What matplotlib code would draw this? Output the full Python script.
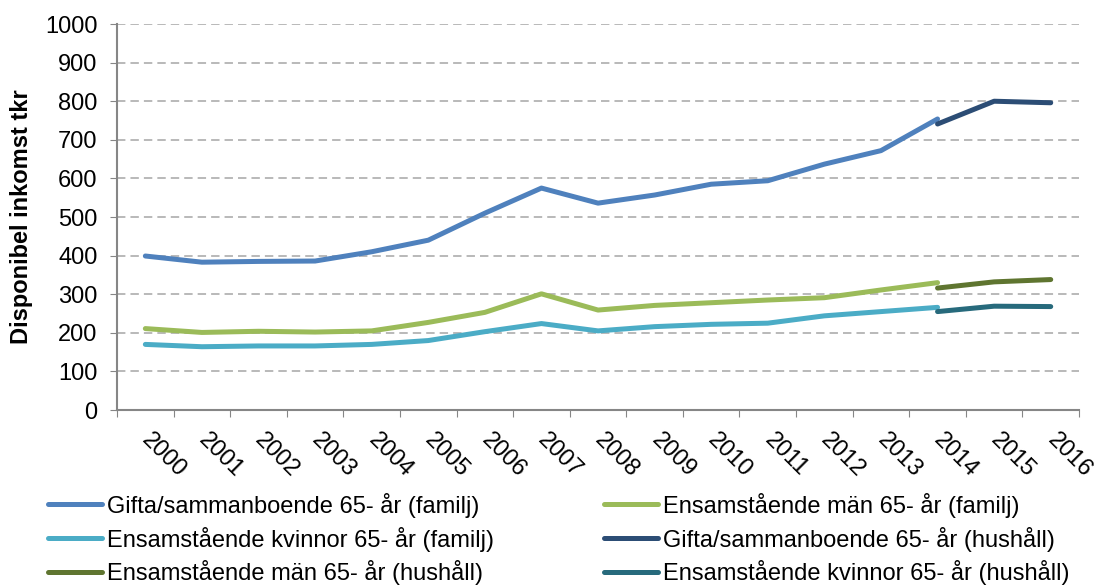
import numpy as np
from matplotlib import pyplot as plt

years = [str(y) for y in range(2000, 2017)]

# familj-based series, 2000-2014
gifta_familj = [399, 383, 385, 386, 410, 440, 510, 575, 536, 557, 585, 594, 637, 672, 754]
man_familj = [211, 201, 204, 202, 205, 227, 253, 301, 259, 271, 278, 285, 291, 311, 330]
kvinnor_familj = [170, 164, 166, 166, 170, 180, 203, 224, 205, 216, 222, 225, 244, 255, 266]

# hushåll-based series, 2014-2016
gifta_hushall = [741, 800, 796]
man_hushall = [316, 332, 338]
kvinnor_hushall = [255, 269, 268]

labels = [
    "Gifta/sammanboende 65- år (familj)",
    "Ensamstående män 65- år (familj)",
    "Ensamstående kvinnor 65- år (familj)",
    "Gifta/sammanboende 65- år (hushåll)",
    "Ensamstående män 65- år (hushåll)",
    "Ensamstående kvinnor 65- år (hushåll)",
]
colors = ["#4F81BD", "#9BBB59", "#4BACC6", "#2C4D75", "#5F7530", "#276A7C"]

plt.rcParams['font.family'] = ['Liberation Sans', 'DejaVu Sans']
FS = 17

fig = plt.figure(figsize=(10.96, 5.86), dpi=100)
ax = fig.add_axes([0.1068, 0.3003, 0.8777, 0.6587])

x_fam = np.arange(15)
x_hus = np.arange(14, 17)
series = [
    (x_fam, gifta_familj), (x_fam, man_familj), (x_fam, kvinnor_familj),
    (x_hus, gifta_hushall), (x_hus, man_hushall), (x_hus, kvinnor_hushall),
]
handles = []
for (xs, ys), c, lab in zip(series, colors, labels):
    h, = ax.plot(xs, ys, color=c, lw=3.6, solid_capstyle='round', label=lab, zorder=3)
    handles.append(h)

ax.set_xlim(-0.5, 16.5)
ax.set_ylim(0, 1000)
ax.set_yticks(np.arange(0, 1001, 100))
ax.set_xticks(np.arange(-0.5, 16.6, 1))
ax.set_xticklabels([])
ax.set_xticks(np.arange(17), minor=True)
ax.set_xticklabels(years, minor=True, rotation=-45, ha='left', va='center',
                   rotation_mode='anchor', fontsize=FS)
ax.tick_params(axis='x', which='minor', length=0, pad=19)
ax.tick_params(axis='x', which='major', length=5, color='#868686', direction='out')
ax.tick_params(axis='y', length=5, color='#868686', labelsize=FS, pad=9)

ax.grid(axis='y', color='#A6A6A6', ls=(0, (5.5, 3.3)), lw=1.1)
for s in ['top', 'right']:
    ax.spines[s].set_visible(False)
for s in ['left', 'bottom']:
    ax.spines[s].set_color('#868686')
    ax.spines[s].set_linewidth(1.5)

ax.set_ylabel("Disponibel inkomst tkr", fontsize=FS, fontweight='bold', labelpad=9)

# legend in two columns, filled row by row
leg_kw = dict(loc='center left', frameon=False, fontsize=FS, handlelength=2.3,
              handletextpad=0.2, labelspacing=0.38, borderpad=0, borderaxespad=0)
leg1 = fig.legend([handles[i] for i in (0, 2, 4)], [labels[i] for i in (0, 2, 4)],
                  bbox_to_anchor=(48 / 1096, 1 - 539 / 586), **leg_kw)
leg2 = fig.legend([handles[i] for i in (1, 3, 5)], [labels[i] for i in (1, 3, 5)],
                  bbox_to_anchor=(604 / 1096, 1 - 539 / 586), **leg_kw)

fig.savefig("out.png", dpi=100)
